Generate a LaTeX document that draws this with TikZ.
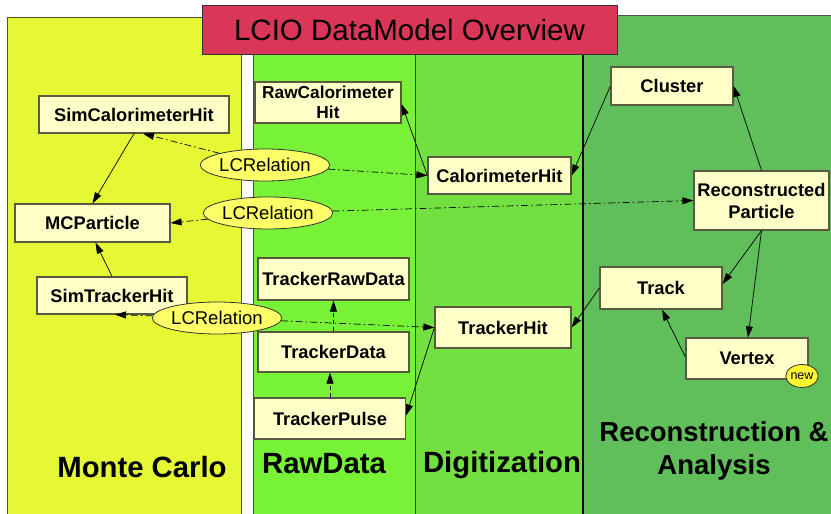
\documentclass[tikz,border=0pt]{standalone}
\usepackage{fontspec}
\setmainfont{Liberation Sans}
\usetikzlibrary{shapes.geometric,arrows.meta}
\definecolor{mcyel}{HTML}{E5F833}
\definecolor{rawgreen}{HTML}{77F236}
\definecolor{diggreen}{HTML}{72E040}
\definecolor{recgreen}{HTML}{60BF5A}
\definecolor{titlered}{HTML}{DA3758}
\definecolor{boxfill}{HTML}{FFFFC8}
\definecolor{boxline}{HTML}{5A5A40}
\definecolor{relfill}{HTML}{FFFF66}
\definecolor{newfill}{HTML}{FFF533}
\tikzset{
  box/.style={draw=boxline, line width=1.2pt, fill=boxfill, inner sep=0pt, align=center,
    font=\fontsize{18.3}{21}\selectfont\bfseries},
  relell/.style={ellipse, draw=black!80, line width=0.8pt, fill=relfill, inner sep=0pt,
    minimum width=97pt, minimum height=32pt, font=\fontsize{18.5}{20}\selectfont},
  arr/.style={-{Triangle[length=11pt,width=7pt]}, line width=0.7pt},
  relarr/.style={arr, dash pattern=on 7pt off 3pt on 1.5pt off 3pt},
  dasharr/.style={arr, dash pattern=on 4pt off 3pt},
  biglabel/.style={font=\fontsize{29.3}{30}\selectfont\bfseries, inner sep=0pt, align=center},
  panelline/.style={draw=black!70, line width=1pt}
}
\begin{document}
\begin{tikzpicture}[x=1pt,y=-1pt]
\useasboundingbox (0,0) rectangle (831,514);
\fill[white] (0,0) rectangle (831,514);
% panels
\fill[mcyel] (7,17) rectangle (241,514);
\draw[panelline] (7,514) -- (7,17) -- (241,17) -- (241,514);
\fill[rawgreen] (253,53) rectangle (415,514);
\draw[panelline] (253,514) -- (253,53);
\fill[diggreen] (415,53) rectangle (583,514);
\draw[draw=black!75, line width=0.8pt] (415,53) -- (415,514);
\fill[recgreen] (583,15) rectangle (831,514);
\draw[panelline] (583,15) -- (831,15);
\draw[black, line width=1.5pt] (583,15) -- (583,514);
% title
\node[draw=black!80, line width=1pt, fill=titlered, minimum width=415pt, minimum height=49pt,
      inner sep=0pt, font=\fontsize{29.5}{30}\selectfont] (title) at (409.5,29.5) {LCIO DataModel Overview};
% nodes
\node[box, minimum width=190pt, minimum height=37pt] (simcal) at (134,114.5) {SimCalorimeterHit};
\node[box, minimum width=155pt, minimum height=38pt] (mcp) at (92.5,223) {MCParticle};
\node[box, minimum width=150pt, minimum height=37pt] (simtrk) at (112,295.5) {SimTrackerHit};
\node[box, minimum width=146pt, minimum height=41pt, font=\fontsize{17.3}{20}\selectfont\bfseries] (rawcal) at (328,102.5) {RawCalorimeter\\Hit};
\node[box, minimum width=151pt, minimum height=42pt] (trd) at (333.5,279) {TrackerRawData};
\node[box, minimum width=151pt, minimum height=40pt] (tdata) at (333.5,352) {TrackerData};
\node[box, minimum width=151pt, minimum height=41pt] (tpulse) at (330,418.5) {TrackerPulse};
\node[box, minimum width=143pt, minimum height=37pt] (calhit) at (499.5,175.5) {CalorimeterHit};
\node[box, minimum width=136pt, minimum height=41pt] (trkhit) at (503,327.5) {TrackerHit};
\node[box, minimum width=122pt, minimum height=38pt] (cluster) at (672,86) {Cluster};
\node[box, minimum width=135pt, minimum height=59pt, font=\fontsize{18.3}{22}\selectfont\bfseries] (reco) at (761.5,200.5) {Reconstructed\\Particle};
\node[box, minimum width=122pt, minimum height=42pt] (track) at (661,288) {Track};
\node[box, minimum width=122pt, minimum height=41pt] (vertex) at (747,358.5) {Vertex};
\node[ellipse, draw=black!80, line width=0.8pt, fill=newfill, inner sep=0pt, minimum width=31pt,
      minimum height=23pt, font=\fontsize{12.5}{14}\selectfont] (new) at (802,376) {new};
% relations
\node[relell] (rel1) at (265,165) {LCRelation};
\node[relell] (rel2) at (268,213) {LCRelation};
\node[relell] (rel3) at (217,318) {LCRelation};
% connectors
\draw[arr] (simcal.south) -- (mcp.north);
\draw[arr] (simtrk.north) -- ([xshift=3pt]mcp.south);
\draw[relarr] (rel1) -- ([xshift=9pt]simcal.south);
\draw[relarr] (rel1) -- (calhit.west);
\draw[relarr] (rel2) -- (mcp.east);
\draw[relarr] (rel2) -- (reco.west);
\draw[relarr] (rel3) -- ([xshift=3pt]simtrk.south);
\draw[relarr] (rel3) -- (trkhit.west);
\draw[arr] (calhit.west) -- ([yshift=-1.5pt]rawcal.east);
\draw[arr] (cluster.west) -- (calhit.east);
\draw[arr] (reco.north) -- (cluster.east);
\draw[arr] (reco.south) -- ([yshift=4pt]track.east);
\draw[arr] (reco.south) -- ([xshift=1pt]vertex.north);
\draw[arr] ([yshift=1.5pt]vertex.west) -- ([xshift=1pt]track.south);
\draw[arr] (track.west) -- (trkhit.east);
\draw[arr] (trkhit.west) -- ([yshift=3pt]tpulse.east);
\draw[dasharr] (tpulse.north) -- (tpulse.north |- tdata.south);
\draw[dasharr] (tdata.north) -- (tdata.north |- trd.south);
% panel labels
\node[biglabel] (lmc) at (142,467) {Monte Carlo};
\node[biglabel] (lraw) at (324,464) {RawData};
\node[biglabel] (ldig) at (502,465) {Digitization};
\node[biglabel, font=\fontsize{27.5}{33}\selectfont\bfseries] (lrec) at (714,451) {Reconstruction \&\\Analysis};
\end{tikzpicture}
\end{document}
